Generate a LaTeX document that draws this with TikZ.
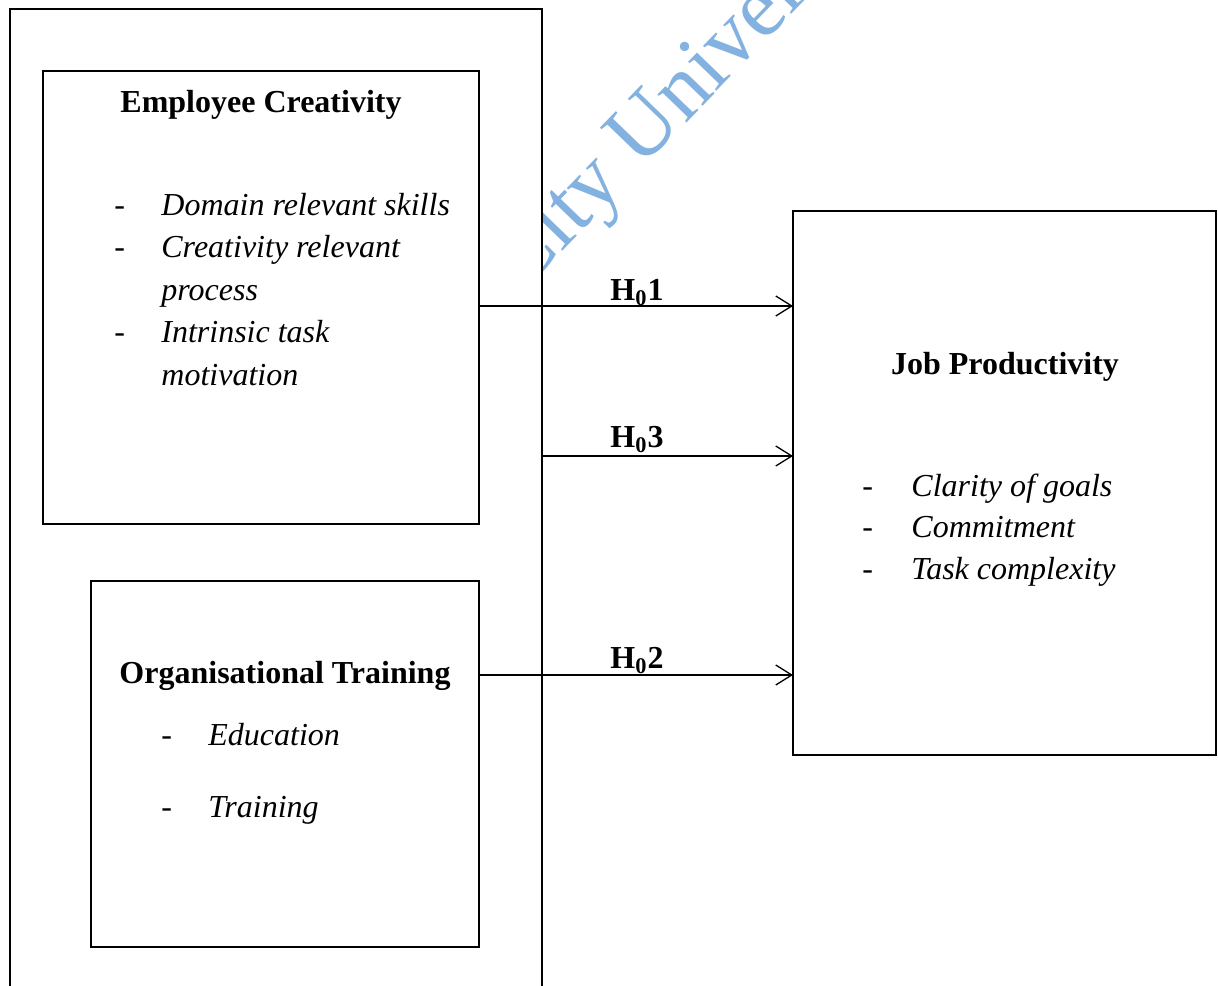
\documentclass[tikz,border=0pt]{standalone}
\usepackage{fontspec}
\setmainfont{Liberation Serif}
\usetikzlibrary{arrows.meta}

\definecolor{wmblue}{RGB}{131,178,225}

\tikzset{
  box/.style={draw, line width=1.25pt, fill=white, anchor=north west,
    inner sep=0pt, outer sep=0pt},
  head/.style={font=\bfseries, anchor=base, inner sep=0pt},
  bullet/.style={anchor=base west, inner sep=0pt},
  item/.style={font=\itshape, anchor=base west, inner sep=0pt},
  hyp/.style={-{Straight Barb[length=8pt,width=10pt]}, line width=0.65pt},
  hlabel/.style={font=\bfseries, anchor=base, inner sep=0pt},
}

\begin{document}
\fontsize{16pt}{21pt}\selectfont
\begin{tikzpicture}[x=0.5pt, y=-0.5pt]
  \useasboundingbox (0,0) rectangle (1218,985);

  % watermark, sits behind everything
  \node[text=wmblue, font=\fontsize{44pt}{48pt}\selectfont, rotate=46,
    anchor=base west, inner sep=0pt] (wm) at (520,295) {City University};

  % outer frame, runs off the bottom of the page
  \node[box, minimum width=266pt, minimum height=500pt] (frame) at (10,9) {};

  % independent variables
  \node[box, minimum width=218pt, minimum height=226.5pt] (ec) at (43,71) {};
  \node[head] (echead) at (261,112) {Employee Creativity};
  \node[bullet] (ecd1) at (114,215) {-};
  \node[item] (eci1) at (161,215) {Domain relevant skills};
  \node[bullet] (ecd2) at (114,257.5) {-};
  \node[item] (eci2) at (161,257.5) {Creativity relevant};
  \node[item] (eci2b) at (161,300) {process};
  \node[bullet] (ecd3) at (114,342.5) {-};
  \node[item] (eci3) at (161,342.5) {Intrinsic task};
  \node[item] (eci3b) at (161,385) {motivation};

  \node[box, minimum width=194pt, minimum height=183pt] (ot) at (91,581) {};
  \node[head] (othead) at (285,683) {Organisational Training};
  \node[bullet] (otd1) at (161,745) {-};
  \node[item] (oti1) at (208,745) {Education};
  \node[bullet] (otd2) at (161,817) {-};
  \node[item] (oti2) at (208,817) {Training};

  % dependent variable
  \node[box, minimum width=211.5pt, minimum height=272pt] (jp) at (793,211) {};
  \node[head] (jphead) at (1005,374) {Job Productivity};
  \node[bullet] (jpd1) at (862,496) {-};
  \node[item] (jpi1) at (911,496) {Clarity of goals};
  \node[bullet] (jpd2) at (862,537.5) {-};
  \node[item] (jpi2) at (911,537.5) {Commitment};
  \node[bullet] (jpd3) at (862,579) {-};
  \node[item] (jpi3) at (911,579) {Task complexity};

  % hypotheses
  \coordinate (y1) at (0,306);
  \coordinate (y3) at (0,456);
  \coordinate (y2) at (0,675);
  \draw[hyp] (ec.east |- y1) -- (jp.west |- y1);
  \draw[hyp] (frame.east |- y3) -- (jp.west |- y3);
  \draw[hyp] (ot.east |- y2) -- (jp.west |- y2);
  \node[hlabel] (h1) at (637,300) {H\textsubscript{0}1};
  \node[hlabel] (h3) at (637,447) {H\textsubscript{0}3};
  \node[hlabel] (h2) at (637,668) {H\textsubscript{0}2};
\end{tikzpicture}
\end{document}
